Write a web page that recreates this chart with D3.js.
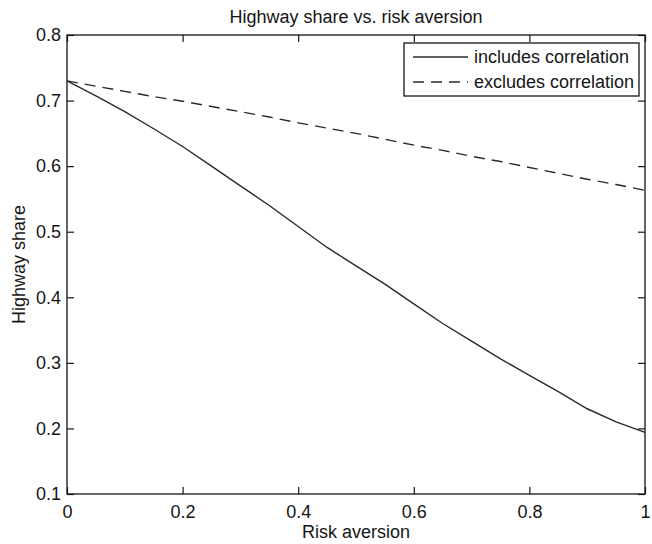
<!DOCTYPE html>
<html>
<head>
<meta charset="utf-8">
<script src="https://cdn.jsdelivr.net/npm/d3@7"></script>
<style>
  html, body { margin: 0; padding: 0; background: #fff; }
  svg { display: block; }
  text { font-family: "Liberation Sans", Arial, Helvetica, sans-serif; fill: #151515; }
</style>
</head>
<body>
<svg id="chart" width="652" height="544"></svg>
<script>
// Risk aversion grid (x) and highway share for each model
const riskAversion = [0, 0.05, 0.1, 0.15, 0.2, 0.25, 0.3, 0.35, 0.4, 0.45, 0.5,
                      0.55, 0.6, 0.65, 0.7, 0.75, 0.8, 0.85, 0.9, 0.95, 1.0];
const includesCorrelation = [0.730, 0.707, 0.683, 0.657, 0.630, 0.600, 0.570, 0.540, 0.508, 0.476, 0.448,
                             0.420, 0.390, 0.360, 0.333, 0.306, 0.281, 0.256, 0.230, 0.210, 0.194];
const excludesCorrelation = [0.730, 0.722, 0.714, 0.706, 0.699, 0.691, 0.683, 0.675, 0.666, 0.658, 0.650,
                             0.641, 0.632, 0.624, 0.615, 0.607, 0.598, 0.589, 0.580, 0.572, 0.563];
const xTicks = [0, 0.2, 0.4, 0.6, 0.8, 1];
const yTicks = [0.1, 0.2, 0.3, 0.4, 0.5, 0.6, 0.7, 0.8];
const seriesNames = ["includes correlation", "excludes correlation"];

const svg = d3.select("#chart");
const margin = { left: 67, right: 7, top: 35, bottom: 50 };
const W = 652, H = 544;
const x0 = margin.left, x1 = W - margin.right;
const y0 = margin.top, y1 = H - margin.bottom;

const x = d3.scaleLinear().domain([0, 1]).range([x0, x1]);
const y = d3.scaleLinear().domain([0.1, 0.8]).range([y1, y0]);

const fontSize = 18;
const tickLen = 7;
const ink = "#151515";

// Title
svg.append("text")
  .attr("x", (x0 + x1) / 2).attr("y", 17)
  .attr("dy", "0.35em")
  .attr("text-anchor", "middle")
  .style("font-size", fontSize + "px")
  .text("Highway share vs. risk aversion");

// Axes: inward ticks on all four sides (box style)
const fmt = d => d3.format("")(+d.toFixed(1));
const gx = svg.append("g").attr("transform", `translate(0,${y1})`)
  .call(d3.axisBottom(x).tickValues(xTicks).tickSize(-tickLen).tickPadding(11).tickFormat(fmt));
const gxTop = svg.append("g").attr("transform", `translate(0,${y0})`)
  .call(d3.axisTop(x).tickValues(xTicks).tickSize(-tickLen).tickFormat(""));
const gy = svg.append("g").attr("transform", `translate(${x0},0)`)
  .call(d3.axisLeft(y).tickValues(yTicks).tickSize(-tickLen).tickPadding(6).tickFormat(fmt));
const gyRight = svg.append("g").attr("transform", `translate(${x1},0)`)
  .call(d3.axisRight(y).tickValues(yTicks).tickSize(-tickLen).tickFormat(""));

[gx, gxTop, gy, gyRight].forEach(g => {
  g.select(".domain").remove();
  g.selectAll(".tick line").attr("stroke", ink).attr("stroke-width", 1.2);
  g.selectAll(".tick text").style("font-size", fontSize + "px").attr("fill", ink);
});

// Plot box
svg.append("rect")
  .attr("x", x0).attr("y", y0)
  .attr("width", x1 - x0).attr("height", y1 - y0)
  .attr("fill", "none").attr("stroke", ink).attr("stroke-width", 1.3);

// Axis labels
svg.append("text")
  .attr("x", (x0 + x1) / 2).attr("y", 532)
  .attr("dy", "0.35em")
  .attr("text-anchor", "middle")
  .style("font-size", fontSize + "px")
  .text("Risk aversion");

svg.append("text")
  .attr("transform", `translate(19,${(y0 + y1) / 2}) rotate(-90)`)
  .attr("dy", "0.35em")
  .attr("text-anchor", "middle")
  .style("font-size", fontSize + "px")
  .text("Highway share");

// Curves
const line = d3.line().x((d, i) => x(riskAversion[i])).y(d => y(d));
const lineColor = "#2a2a2a";
const dashPattern = "11,7";

svg.append("path")
  .datum(includesCorrelation)
  .attr("d", line)
  .attr("fill", "none").attr("stroke", lineColor).attr("stroke-width", 1.4);

svg.append("path")
  .datum(excludesCorrelation)
  .attr("d", line)
  .attr("fill", "none").attr("stroke", lineColor).attr("stroke-width", 1.4)
  .attr("stroke-dasharray", dashPattern);

// Legend
const lg = { x: 404, y: 43, w: 235, h: 53 };
svg.append("rect")
  .attr("x", lg.x).attr("y", lg.y).attr("width", lg.w).attr("height", lg.h)
  .attr("fill", "#fff").attr("stroke", ink).attr("stroke-width", 1.3);

const rows = [lg.y + 14, lg.y + 39];
seriesNames.forEach((name, i) => {
  svg.append("line")
    .attr("x1", lg.x + 9).attr("x2", lg.x + 64)
    .attr("y1", rows[i]).attr("y2", rows[i])
    .attr("stroke", lineColor).attr("stroke-width", 1.4)
    .attr("stroke-dasharray", i === 1 ? dashPattern : null);
  svg.append("text")
    .attr("x", lg.x + 70).attr("y", rows[i])
    .attr("dy", "0.35em")
    .style("font-size", fontSize + "px")
    .text(name);
});
</script>
</body>
</html>
